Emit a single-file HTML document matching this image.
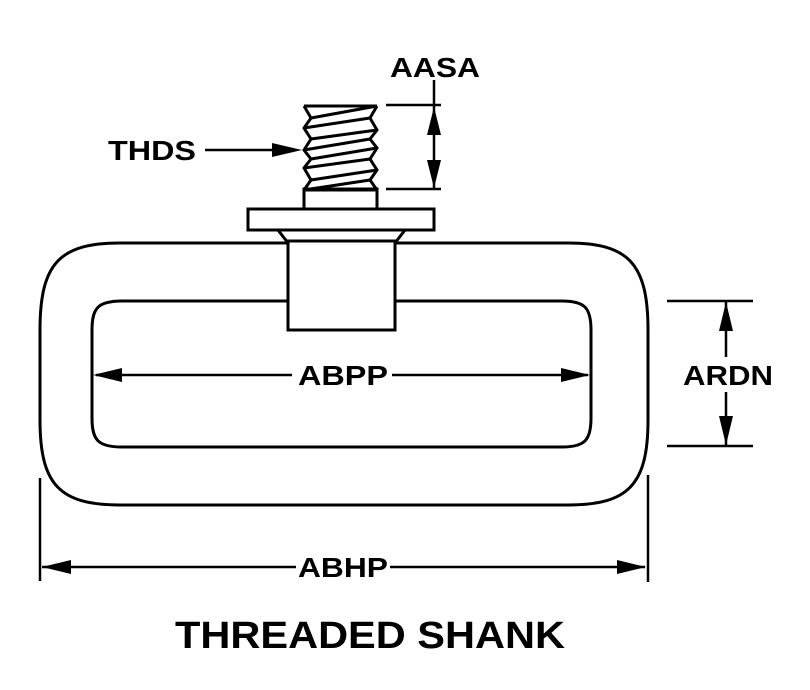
<!DOCTYPE html>
<html><head><style>
html,body{margin:0;padding:0;background:#fff}
svg{display:block}
text{font-family:"Liberation Sans",Arial,sans-serif;font-weight:bold;fill:#000}
</style></head><body>
<svg width="810" height="690" viewBox="0 0 810 690" xmlns="http://www.w3.org/2000/svg">
<g fill="none" stroke="#000" stroke-width="3">
<path d="M120,243 H568 C628,243 648,263 648,330 V420 C648,485 628,505 568,505 H120 C60,505 40,485 40,420 V330 C40,263 60,243 120,243 Z"/>
<path d="M122,301 H562 C585,301 591,308 591,330 V418 C591,440 585,447 562,447 H122 C98,447 92,440 92,418 V330 C92,308 98,301 122,301 Z"/>
</g>
<rect x="288" y="241" width="107" height="89" fill="#fff" stroke="#000" stroke-width="3"/>
<path d="M278,230 L288,243 M405,230 L395,243" stroke="#000" stroke-width="3"/>
<rect x="248" y="209" width="186" height="21" fill="#fff" stroke="#000" stroke-width="3"/>
<rect x="304" y="189" width="73" height="20" fill="#fff" stroke="#000" stroke-width="3"/>
<g fill="none" stroke="#000" stroke-width="3" stroke-linejoin="miter">
<path d="M304,106 H377"/>
<path d="M304,106 L311,118 L304,128 L311,139 L304,150 L311,159 L304,168 L311,180 L304,190"/>
<path d="M377,106 L370,118 L377,130 L370,139 L377,148 L370,159 L377,170 L370,180 L377,190"/>
<path d="M311,118 L377,106 M304,128 L370,118 M311,139 L377,130 M304,150 L370,139 M311,159 L377,148 M304,168 L370,159 M311,180 L377,170 M304,190 L370,180"/>
<path d="M304,190 H377"/>
</g>
<g stroke="#000" stroke-width="2.5" fill="none">
<path d="M386,105 H441 M386,189 H441 M434,80 V189"/>
<path d="M205,150 H275"/>
<path d="M96,375 H292 M392,375 H588"/>
<path d="M667,301 H753 M667,446 H753 M726,301 V357 M726,392 V446"/>
<path d="M40,478 V581 M648,475 V582 M42,567 H296 M390,567 H645"/>
</g>
<g fill="#000">
<polygon points="434,107 427,135 441,135"/>
<polygon points="434,188 427,160 441,160"/>
<polygon points="302,150 272,143 272,157"/>
<polygon points="93,375 122,368 122,382"/>
<polygon points="590,375 561,368 561,382"/>
<polygon points="726,302 719,331 733,331"/>
<polygon points="726,445 719,416 733,416"/>
<polygon points="42,567 71,560 71,574"/>
<polygon points="646,567 617,560 617,574"/>
</g>
<g font-size="28">
<text x="390" y="77" textLength="90" lengthAdjust="spacingAndGlyphs">AASA</text>
<text x="108" y="160" textLength="88" lengthAdjust="spacingAndGlyphs">THDS</text>
<text x="298" y="385" textLength="90" lengthAdjust="spacingAndGlyphs">ABPP</text>
<text x="683" y="385" textLength="90" lengthAdjust="spacingAndGlyphs">ARDN</text>
<text x="298" y="577" textLength="90" lengthAdjust="spacingAndGlyphs">ABHP</text>
</g>
<text x="175" y="648" font-size="38" textLength="390" lengthAdjust="spacingAndGlyphs">THREADED SHANK</text>
</svg>
</body></html>
